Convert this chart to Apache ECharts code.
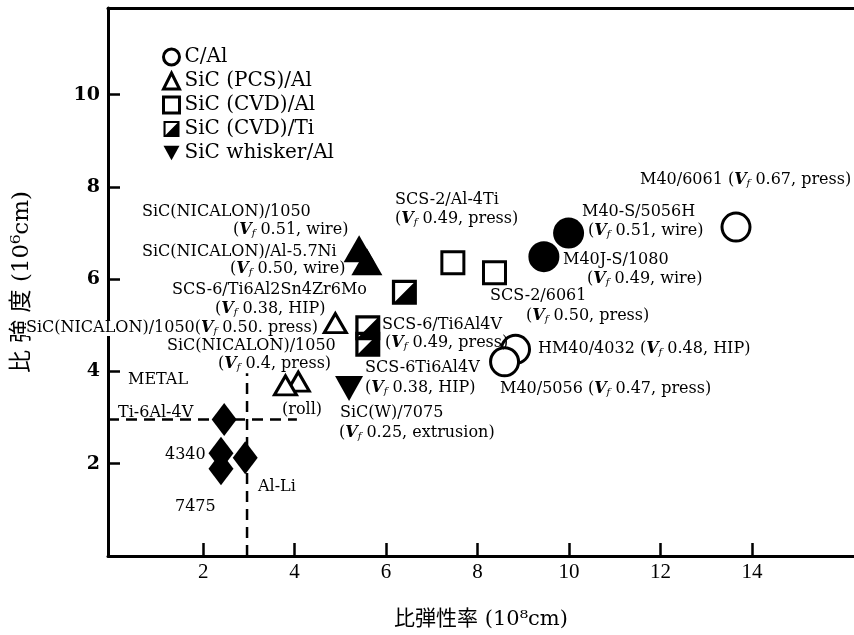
<!DOCTYPE html>
<html><head><meta charset="utf-8">
<script src="https://cdn.jsdelivr.net/npm/echarts@6/dist/echarts.min.js"></script>
<style>html,body{margin:0;padding:0;background:#fff}#c{width:854px;height:635px}</style>
</head><body><div id="c"></div>
<script>
// ---- tick labels ----
const xTicks = [2, 4, 6, 8, 10, 12, 14];
const yTicks = [2, 4, 6, 8, 10];

// ---- data: [specific modulus (10^8 cm), specific strength (10^6 cm)] ----
const cAlNames = ['M40/6061', 'HM40/4032', 'M40/5056'];
const cAlPts = [[13.65, 7.13], [8.83, 4.48], [8.59, 4.21]];
const cAlWireNames = ['M40-S/5056H', 'M40J-S/1080'];
const cAlWirePts = [[9.99, 7.00], [9.45, 6.49]];
const pcsNames = ['SiC(NICALON)/1050 press', 'SiC(NICALON)/1050 roll', 'SiC(NICALON)/1050 press 0.4'];
const pcsPts = [[4.89, 5.05], [4.08, 3.78], [3.80, 3.70]];
const pcsWireNames = ['SiC(NICALON)/1050 wire', 'SiC(NICALON)/Al-5.7Ni wire'];
const pcsWirePts = [[5.41, 6.66], [5.58, 6.38]];
const cvdAlNames = ['SCS-2/Al-4Ti', 'SCS-2/6061'];
const cvdAlPts = [[7.46, 6.36], [8.37, 6.14]];
const cvdTiNames = ['SCS-6/Ti6Al2Sn4Zr6Mo', 'SCS-6/Ti6Al4V', 'SCS-6Ti6Al4V'];
const cvdTiPts = [[6.40, 5.72], [5.60, 4.95], [5.60, 4.59]];
const whiskerNames = ['SiC(W)/7075'];
const whiskerPts = [[5.19, 3.63]];
const metalNames = ['Ti-6Al-4V', '4340', '7475', 'Al-Li'];
const metalPts = [[2.46, 2.96], [2.39, 2.23], [2.39, 1.89], [2.92, 2.13]];
const metalModulus = 2.96;   // vertical dashed limit
const metalStrength = 2.96;  // horizontal dashed limit
const metalLineTop = 3.96;   // top of vertical dashed line
const metalLineEnd = 4.05;   // right end of horizontal dashed line

const legendNames = ['C/Al', 'SiC (PCS)/Al', 'SiC (CVD)/Al', 'SiC (CVD)/Ti', 'SiC whisker/Al'];

// ---- annotation texts (pixel layout) ----
const notes = [
  ['SiC(NICALON)/1050', 142, 212],
  ['(Vf 0.51, wire)', 233, 230],
  ['SiC(NICALON)/Al-5.7Ni', 142, 252],
  ['(Vf 0.50, wire)', 230, 269],
  ['SCS-6/Ti6Al2Sn4Zr6Mo', 172, 290],
  ['(Vf 0.38, HIP)', 215, 309],
  ['SiC(NICALON)/1050(Vf 0.50. press)', 318, 328, 'right', true],
  ['SiC(NICALON)/1050', 167, 346],
  ['(Vf 0.4, press)', 218, 364],
  ['SCS-2/Al-4Ti', 395, 200],
  ['(Vf 0.49, press)', 395, 219],
  ['SCS-2/6061', 490, 296],
  ['(Vf 0.50, press)', 526, 316],
  ['SCS-6/Ti6Al4V', 382, 325],
  ['(Vf 0.49, press)', 385, 343],
  ['SCS-6Ti6Al4V', 365, 368],
  ['(Vf 0.38, HIP)', 365, 388],
  ['SiC(W)/7075', 340, 413],
  ['(Vf 0.25, extrusion)', 339, 433],
  ['M40/5056 (Vf 0.47, press)', 500, 389],
  ['HM40/4032 (Vf 0.48, HIP)', 538, 349],
  ['M40-S/5056H', 582, 212],
  ['(Vf 0.51, wire)', 588, 231],
  ['M40J-S/1080', 563, 260],
  ['(Vf 0.49, wire)', 587, 279],
  ['M40/6061 (Vf 0.67, press)', 640, 180],
  ['METAL', 128, 380],
  ['Ti-6Al-4V', 118, 413],
  ['4340', 165, 455],
  ['7475', 175, 507],
  ['Al-Li', 258, 487],
  ['(roll)', 282, 410]
];

const SERIF = '"DejaVu Serif", "Liberation Serif", serif';
const CJK = '"DejaVu Serif", "Noto Sans CJK JP", sans-serif';
const NOTE_SIZE = 16;

function pts(names, arr) { return arr.map((p, i) => ({ name: names[i], value: p })); }

const openStyle = { color: '#fff', borderColor: '#000', borderWidth: 3, opacity: 1 };
const fillStyle = { color: '#000', opacity: 1 };
const halfSquare = 'path://M0,0H20V20H0Z M2.6,2.6V17.4H17.4V2.6Z M17.4,2.6V17.4H2.6Z';
const downTriangle = 'path://M0,0H20L10,18Z';

const graphics = notes.map(n => ({
  type: 'text', x: n[1], y: n[2], z: 100,
  style: {
    text: n[0].replace(/Vf/g, '{v|V}{f|f}'),
    fill: '#000', fontSize: NOTE_SIZE, fontFamily: SERIF,
    align: n[3] || 'left', verticalAlign: 'middle',
    backgroundColor: n[4] ? '#fff' : undefined,
    rich: {
      v: { fontStyle: 'italic', fontWeight: 'bold', fontSize: NOTE_SIZE, fontFamily: SERIF, fill: '#000' },
      f: { fontStyle: 'italic', fontSize: 10, fontFamily: SERIF, verticalAlign: 'bottom', fill: '#000' }
    }
  }
}));

const common = { type: 'scatter', z: 3, emphasis: { disabled: true }, silent: true };

const dashStyle = { color: '#000', width: 2.5, type: [11, 7] };

const chart = echarts.init(document.getElementById('c'), null, { renderer: 'canvas' });
chart.setOption({
  animation: false,
  backgroundColor: '#fff',
  grid: { left: 108, right: 0, top: 8, bottom: 74, containLabel: false },
  legend: {
    data: legendNames.map(n => ({ name: n, itemStyle: { borderWidth: 3, opacity: 1 } })),
    orient: 'vertical', left: 162, top: 47,
    itemWidth: 16, itemHeight: 16, itemGap: 4, padding: 0, selectedMode: false,
    textStyle: { fontFamily: SERIF, fontSize: 20, color: '#000' }
  },
  xAxis: [{
    type: 'value', min: -0.08, max: 16.23, position: 'bottom',
    axisLine: { onZero: false, lineStyle: { color: '#000', width: 3 } },
    axisTick: { inside: true, length: 13, customValues: xTicks, lineStyle: { color: '#000', width: 2.5 } },
    axisLabel: { customValues: xTicks, fontFamily: '"Liberation Serif", serif', fontSize: 21, color: '#000', margin: 6 },
    splitLine: { show: false },
    name: '比弾性率 (10⁸cm)', nameLocation: 'middle', nameGap: 53,
    nameTextStyle: { fontFamily: CJK, fontSize: 21, color: '#000' }
  }, {
    type: 'value', min: -0.08, max: 16.23, position: 'top',
    axisLine: { onZero: false, lineStyle: { color: '#000', width: 3 } },
    axisTick: { show: false }, axisLabel: { show: false }, splitLine: { show: false }
  }],
  yAxis: {
    type: 'value', min: 0, max: 11.88,
    axisLine: { onZero: false, lineStyle: { color: '#000', width: 3 } },
    axisTick: { inside: true, length: 12, customValues: yTicks, lineStyle: { color: '#000', width: 2.5 } },
    axisLabel: { customValues: yTicks, fontFamily: SERIF, fontWeight: 'bold', fontSize: 19, color: '#000', margin: 8 },
    splitLine: { show: false },
    name: '比 強 度 (10⁶cm)', nameLocation: 'middle', nameGap: 74, nameRotate: 90,
    nameTextStyle: { fontFamily: CJK, fontSize: 23, color: '#000' }
  },
  graphic: graphics,
  series: [
    { name: 'metal-limit-h', type: 'line', z: 1, silent: true, symbol: 'none', lineStyle: dashStyle,
      data: [[-0.08, metalStrength], [metalLineEnd, metalStrength]] },
    { name: 'metal-limit-v', type: 'line', z: 1, silent: true, symbol: 'none', lineStyle: dashStyle,
      data: [[metalModulus, 0], [metalModulus, metalLineTop]] },
    Object.assign({ name: 'METAL', symbol: 'diamond', symbolSize: [25, 33], itemStyle: fillStyle, data: pts(metalNames, metalPts) }, common),
    Object.assign({ name: 'C/Al', symbol: 'circle', symbolSize: 28, itemStyle: openStyle, data: pts(cAlNames, cAlPts) }, common),
    Object.assign({ name: 'C/Al wire', symbol: 'circle', symbolSize: 31, itemStyle: fillStyle, data: pts(cAlWireNames, cAlWirePts) }, common),
    Object.assign({ name: 'SiC (PCS)/Al', symbol: 'triangle', symbolSize: [22, 19], itemStyle: openStyle, data: pts(pcsNames, pcsPts) }, common),
    Object.assign({ name: 'SiC (PCS)/Al wire', symbol: 'triangle', symbolSize: [31, 27], itemStyle: fillStyle, data: pts(pcsWireNames, pcsWirePts) }, common),
    Object.assign({ name: 'SiC (CVD)/Al', symbol: 'rect', symbolSize: 22, itemStyle: openStyle, data: pts(cvdAlNames, cvdAlPts) }, common),
    Object.assign({ name: 'SiC (CVD)/Ti', symbol: halfSquare, symbolSize: 25, itemStyle: fillStyle, data: pts(cvdTiNames, cvdTiPts) }, common),
    Object.assign({ name: 'SiC whisker/Al', symbol: downTriangle, symbolSize: [28, 25], itemStyle: fillStyle, data: pts(whiskerNames, whiskerPts) }, common)
  ]
});
</script></body></html>
